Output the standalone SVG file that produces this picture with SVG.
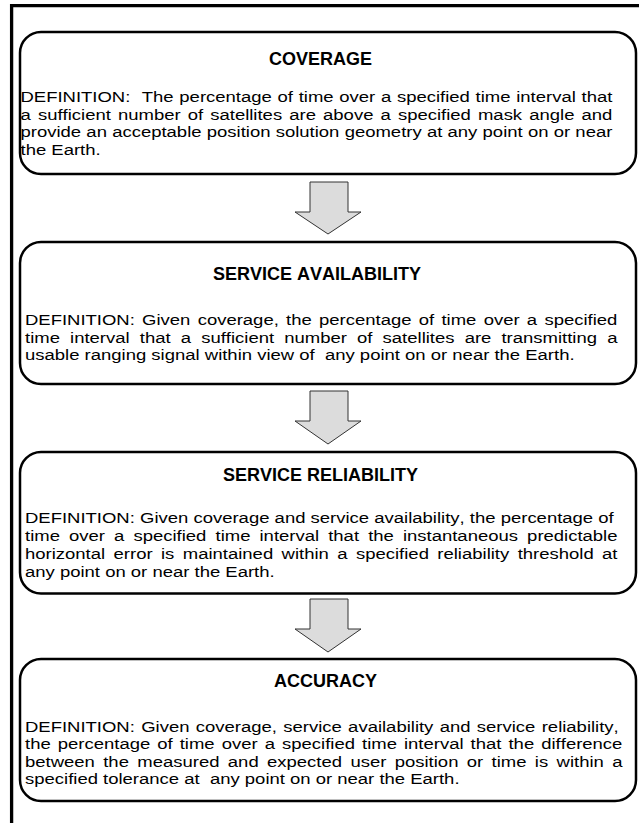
<svg xmlns="http://www.w3.org/2000/svg" width="639" height="823" viewBox="0 0 639 823">
<style>
.frame{fill:none;stroke:#000;stroke-width:3.3}
.box{fill:#fff;stroke:#000;stroke-width:2.5}
.arrow{fill:#dcdcdc;stroke:#333;stroke-width:1}
.title{font-family:"Liberation Sans",Arial,sans-serif;font-size:18px;font-weight:bold;fill:#000;font-kerning:none}
.body{font-family:"Liberation Sans",Arial,sans-serif;font-size:15.5px;fill:#000;font-kerning:none}
</style>
<rect width="639" height="823" fill="#fff"/>
<path class="frame" d="M11.6,823 V5.6 H639"/>
<g id="connectors">
<path class="arrow" d="M310,182 H348 V212 H361 L328,234 L295,212 H310 Z"/>
<path class="arrow" d="M310,391 H348 V421 H361 L328,444 L295,421 H310 Z"/>
<path class="arrow" d="M310,599 H348 V629 H361 L328,652 L295,629 H310 Z"/>
</g>
<g id="coverage">
<rect class="box" x="20" y="32" width="616" height="142" rx="21"/>
<text class="title" x="269" y="65">COVERAGE</text>
<g transform="translate(20.5,0) scale(1.1935,1)">
<text class="body" x="0" y="102.5" word-spacing="0.49" xml:space="preserve">DEFINITION:  The percentage of time over a specified time interval that</text>
<text class="body" x="0" y="120" word-spacing="1.66">a sufficient number of satellites are above a specified mask angle and</text>
<text class="body" x="0" y="137.5" word-spacing="0.09">provide an acceptable position solution geometry at any point on or near</text>
<text class="body" x="0" y="155">the Earth.</text>
</g>
</g>
<g id="service-availability">
<rect class="box" x="20" y="242" width="616" height="142" rx="21"/>
<text class="title" x="213" y="280">SERVICE AVAILABILITY</text>
<g transform="translate(25,0) scale(1.1935,1)">
<text class="body" x="0" y="325.5" word-spacing="1.79">DEFINITION: Given coverage, the percentage of time over a specified</text>
<text class="body" x="0" y="343" word-spacing="4.2">time interval that a sufficient number of satellites are transmitting a</text>
<text class="body" x="0" y="360.5" xml:space="preserve">usable ranging signal within view of  any point on or near the Earth.</text>
</g>
</g>
<g id="service-reliability">
<rect class="box" x="20" y="452" width="616" height="141.5" rx="21"/>
<text class="title" x="223" y="481">SERVICE RELIABILITY</text>
<g transform="translate(25,0) scale(1.1935,1)">
<text class="body" x="0" y="523.5" word-spacing="0.02">DEFINITION: Given coverage and service availability, the percentage of</text>
<text class="body" x="0" y="541.5" word-spacing="3.33">time over a specified time interval that the instantaneous predictable</text>
<text class="body" x="0" y="559.5" word-spacing="2.76">horizontal error is maintained within a specified reliability threshold at</text>
<text class="body" x="0" y="577.5">any point on or near the Earth.</text>
</g>
</g>
<g id="accuracy">
<rect class="box" x="20" y="659" width="616" height="142" rx="21"/>
<text class="title" x="274" y="687">ACCURACY</text>
<g transform="translate(25,0) scale(1.1935,1)">
<text class="body" x="0" y="732" word-spacing="1.0">DEFINITION: Given coverage, service availability and service reliability,</text>
<text class="body" x="0" y="749.5" word-spacing="1.61">the percentage of time over a specified time interval that the difference</text>
<text class="body" x="0" y="767" word-spacing="2.71">between the measured and expected user position or time is within a</text>
<text class="body" x="0" y="784.5" xml:space="preserve">specified tolerance at  any point on or near the Earth.</text>
</g>
</g>
</svg>
